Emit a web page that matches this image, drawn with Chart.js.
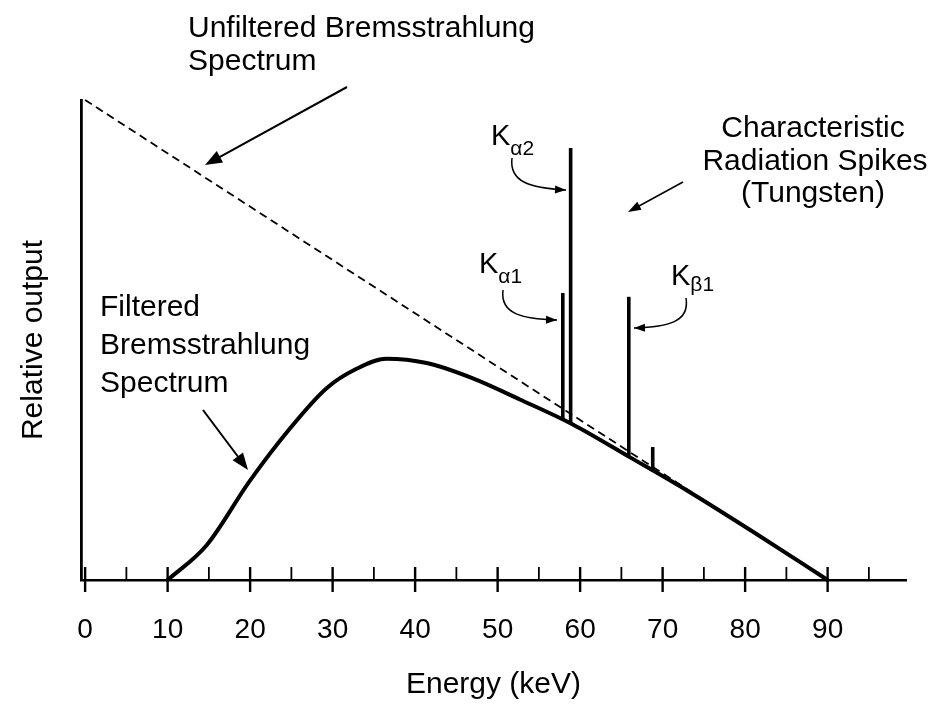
<!DOCTYPE html>
<html><head><meta charset="utf-8">
<script src="https://cdn.jsdelivr.net/npm/chart.js@4.4.1/dist/chart.umd.min.js"></script>
<style>html,body{margin:0;padding:0;background:#fff;}#wrap{width:946px;height:705px;}</style>
</head><body><div id="wrap"><canvas id="c" width="946" height="705"></canvas></div>
<script>
// ---- data ----
const tickValues = [0,5,10,15,20,25,30,35,40,45,50,55,60,65,70,75,80,85,90,95];
const tickLabels = ['0','10','20','30','40','50','60','70','80','90'];
const filteredEnergy = [10, 14.7, 19.9, 24.8, 29.3, 32.9, 36.5, 41.4, 47, 52.7, 59, 66, 73, 81, 90];
const filteredOutput = [0, 7.2, 20.5, 31.5, 40, 44, 46.1, 45.2, 42, 37.6, 32.5, 25.6, 18.6, 10.0, 0];
const unfilteredEnergy = [0, 90];
const unfilteredOutput = [100, 0];
const spikeNames = ['Kα1', 'Kα2', 'Kβ1', 'Kβ2'];
const spikeEnergy = [57.9, 58.85, 65.9, 68.8];
const spikeBase = [33.6, 32.6, 25.7, 22.6];
const spikeTop = [59.8, 90.0, 59.0, 27.7];

const FONT = '"Liberation Sans", Arial, Helvetica, sans-serif';

const datasets = [
  {
    label: 'Unfiltered Bremsstrahlung Spectrum',
    data: unfilteredEnergy.map((e, i) => ({x: e, y: unfilteredOutput[i]})),
    borderColor: '#000', borderWidth: 1.8, borderDash: [8, 5],
    pointRadius: 0, fill: false, clip: false, order: 3
  },
  {
    label: 'Filtered Bremsstrahlung Spectrum',
    data: filteredEnergy.map((e, i) => ({x: e, y: filteredOutput[i]})),
    borderColor: '#000', borderWidth: 4, cubicInterpolationMode: 'monotone',
    pointRadius: 0, fill: false, clip: false, order: 2, borderCapStyle: 'round'
  }
];
spikeEnergy.forEach((e, i) => {
  datasets.push({
    label: spikeNames[i],
    data: [{x: e, y: spikeBase[i]}, {x: e, y: spikeTop[i]}],
    borderColor: '#000', borderWidth: 3.6, pointRadius: 0, fill: false, clip: false, order: 1
  });
});

function arrowHead(ctx, tx, ty, angle, len, wid) {
  ctx.beginPath();
  ctx.moveTo(tx, ty);
  ctx.lineTo(tx - len * Math.cos(angle) + wid / 2 * Math.sin(angle), ty - len * Math.sin(angle) - wid / 2 * Math.cos(angle));
  ctx.lineTo(tx - len * Math.cos(angle) - wid / 2 * Math.sin(angle), ty - len * Math.sin(angle) + wid / 2 * Math.cos(angle));
  ctx.closePath();
  ctx.fill();
}
function straightArrow(ctx, x1, y1, x2, y2, lw, len, wid) {
  const a = Math.atan2(y2 - y1, x2 - x1);
  ctx.lineWidth = lw;
  ctx.beginPath();
  ctx.moveTo(x1, y1);
  ctx.lineTo(x2 - (len - 2) * Math.cos(a), y2 - (len - 2) * Math.sin(a));
  ctx.stroke();
  arrowHead(ctx, x2, y2, a, len, wid);
}
function curvedArrow(ctx, p0, c1, c2, p1, lw, len, wid) {
  ctx.lineWidth = lw;
  ctx.beginPath();
  ctx.moveTo(p0[0], p0[1]);
  ctx.bezierCurveTo(c1[0], c1[1], c2[0], c2[1], p1[0], p1[1]);
  ctx.stroke();
  arrowHead(ctx, p1[0], p1[1], Math.atan2(p1[1] - c2[1], p1[0] - c2[0]), len, wid);
}
function kLabel(ctx, x, y, sub, subDy) {
  ctx.font = '29px ' + FONT;
  ctx.fillText('K', x, y);
  const w = ctx.measureText('K').width;
  ctx.font = '21px ' + FONT;
  ctx.fillText(sub, x + w, y + subDy);
}

const decor = {
  id: 'decor',
  afterDraw(chart) {
    const ctx = chart.ctx;
    const xs = chart.scales.x;
    const base = chart.chartArea.bottom;
    ctx.save();
    ctx.strokeStyle = '#000';
    ctx.fillStyle = '#000';
    // tick marks on the energy axis
    xs.ticks.forEach(t => {
      const px = xs.getPixelForValue(t.value);
      const major = t.value % 10 === 0;
      ctx.lineWidth = major ? 2.4 : 1.8;
      ctx.beginPath();
      ctx.moveTo(px, base - 13);
      ctx.lineTo(px, major ? base + 12 : base);
      ctx.stroke();
    });
    // texts
    ctx.textBaseline = 'alphabetic';
    ctx.textAlign = 'left';
    ctx.font = '30px ' + FONT;
    ctx.fillText('Unfiltered Bremsstrahlung', 188, 37);
    ctx.fillText('Spectrum', 188, 70);
    ctx.fillText('Filtered', 100, 316);
    ctx.fillText('Bremsstrahlung', 100, 354);
    ctx.fillText('Spectrum', 100, 392);
    ctx.textAlign = 'center';
    ctx.fillText('Characteristic', 813, 137);
    ctx.fillText('Radiation Spikes', 815, 170);
    ctx.fillText('(Tungsten)', 813, 202);
    ctx.textAlign = 'left';
    kLabel(ctx, 491, 145, 'α2', 10);
    kLabel(ctx, 479, 273, 'α1', 10);
    kLabel(ctx, 671, 285, 'β1', 6);
    // arrows
    straightArrow(ctx, 347, 87, 205, 165, 2, 17, 13);
    straightArrow(ctx, 203, 410, 248, 470, 2, 17, 13);
    straightArrow(ctx, 683, 182, 628, 212, 1.5, 13, 9);
    curvedArrow(ctx, [512, 158], [509, 182], [530, 188], [566, 190], 1.5, 11, 8);
    curvedArrow(ctx, [503, 290], [500, 314], [522, 319], [557, 320], 1.5, 11, 8);
    curvedArrow(ctx, [686, 298], [690, 322], [668, 327], [634, 328], 1.5, 11, 8);
    ctx.restore();
  }
};

new Chart(document.getElementById('c'), {
  type: 'line',
  data: { datasets },
  options: {
    responsive: false,
    animation: false,
    devicePixelRatio: 1,
    layout: { padding: { left: 0, right: 40, top: 100, bottom: 0 } },
    plugins: { legend: { display: false }, tooltip: { enabled: false } },
    scales: {
      x: {
        type: 'linear', min: -0.5, max: 99.5,
        afterFit: s => { s.height = 125; },
        afterBuildTicks: s => { s.ticks = tickValues.map(v => ({ value: v })); },
        grid: { display: false, drawTicks: false },
        border: { display: true, color: '#000', width: 2.5 },
        ticks: {
          autoSkip: false, maxRotation: 0, padding: 33, color: '#000',
          font: { family: FONT, size: 28 },
          callback: v => (v % 10 === 0 ? tickLabels[v / 10] : '')
        },
        title: { display: true, text: 'Energy (keV)', color: '#000', font: { family: FONT, size: 30 }, padding: { top: 0, bottom: 2 } }
      },
      y: {
        type: 'linear', min: 0, max: 100,
        afterFit: s => { s.width = 81; },
        grid: { display: false, drawTicks: false },
        border: { display: true, color: '#000', width: 2.8 },
        ticks: { display: false },
        title: { display: true, text: 'Relative output', color: '#000', font: { family: FONT, size: 30 }, padding: { top: 16, bottom: 0 } }
      }
    }
  },
  plugins: [decor]
});
</script></body></html>
